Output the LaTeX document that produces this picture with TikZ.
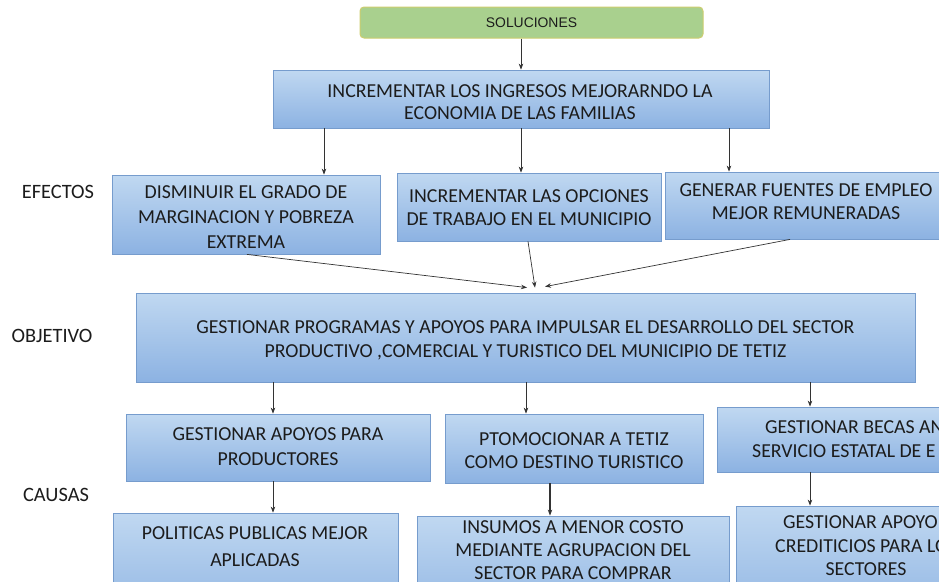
\documentclass[tikz,border=0pt]{standalone}
\usepackage{fontspec}
\setmainfont{Carlito}
\newfontfamily\arialf{Liberation Sans}
\usetikzlibrary{arrows.meta}
\definecolor{boxtop}{RGB}{192,216,241}
\definecolor{boxbot}{RGB}{140,178,226}
\definecolor{boxline}{RGB}{118,156,205}
\definecolor{txt}{RGB}{28,28,28}
\definecolor{gfill}{RGB}{169,208,142}
\definecolor{gline}{RGB}{205,205,110}
\tikzset{
  bx/.style={draw=boxline, line width=0.8pt, top color=boxtop, bottom color=boxbot,
    text=txt, font=\fontsize{19.8}{24}\selectfont, align=center, inner sep=0pt},
  sbx/.style={draw=gline, line width=1pt, fill=gfill, rounded corners=4pt, text=txt,
    font=\arialf\fontsize{13.9}{15}\selectfont, inner sep=0pt},
  tx/.style={text=txt, font=\fontsize{19.8}{23}\selectfont, align=center, inner sep=0pt},
  lbl/.style={text=txt, font=\fontsize{20.4}{22}\selectfont, inner sep=0pt},
  arr/.style={-{Stealth[length=6pt,width=4.5pt]}, draw=black!80, line width=0.7pt}
}
\begin{document}
\begin{tikzpicture}[x=1pt,y=-1pt]
\useasboundingbox (0,0) rectangle (939,581);
\fill[white] (0,0) rectangle (939,581);
\begin{scope}
\clip (0,0) rectangle (939,581);
% labels
\node[lbl] (lef) at (58,192) {EFECTOS};
\node[lbl] (lob) at (52,336) {OBJETIVO};
\node[lbl] (lca) at (56,495) {CAUSAS};
% top
\node[sbx, minimum width=343, minimum height=31] (sol) at (531.5,22.5) {SOLUCIONES};
\node[bx, minimum width=496, minimum height=58] (ing) at (521,99) {};
\node[tx, font=\fontsize{19.8}{22}\selectfont] (ingt) at (520,102) {INCREMENTAR LOS INGRESOS MEJORARNDO LA\\ECONOMIA DE LAS FAMILIAS};
% efectos
\node[bx, minimum width=268, minimum height=79] (dis) at (246,214.5) {};
\node[tx, font=\fontsize{19.8}{25}\selectfont] (dist) at (246,217) {DISMINUIR EL GRADO DE\\MARGINACION Y POBREZA\\EXTREMA};
\node[bx, minimum width=264, minimum height=68] (opc) at (529,207) {};
\node[tx, font=\fontsize{19.8}{23}\selectfont] (opct) at (529,207.5) {INCREMENTAR LAS OPCIONES\\DE TRABAJO EN EL MUNICIPIO};
\node[bx, minimum width=282, minimum height=67] (gen) at (806,205.5) {};
\node[tx, font=\fontsize{19.8}{23.5}\selectfont] (gent) at (806,201.5) {GENERAR FUENTES DE EMPLEO\\MEJOR REMUNERADAS};
% objetivo
\node[bx, minimum width=779, minimum height=89] (obj) at (525.5,337.5) {};
\node[tx, font=\fontsize{19.8}{24}\selectfont] (objt) at (525.5,340) {GESTIONAR PROGRAMAS Y APOYOS PARA IMPULSAR EL DESARROLLO DEL SECTOR\\PRODUCTIVO ,COMERCIAL Y TURISTICO DEL MUNICIPIO DE TETIZ};
% causas
\node[bx, minimum width=304, minimum height=67] (gap) at (278,447.5) {};
\node[tx, font=\fontsize{19.8}{25}\selectfont] (gapt) at (278,446.5) {GESTIONAR APOYOS PARA\\PRODUCTORES};
\node[bx, minimum width=258, minimum height=69] (pto) at (574,448.5) {};
\node[tx, font=\fontsize{19.8}{22.5}\selectfont] (ptot) at (574,450.5) {PTOMOCIONAR A TETIZ\\COMO DESTINO TURISTICO};
\node[bx, minimum width=283, minimum height=65] (bec) at (858.5,439.5) {};
\node[tx, anchor=west] (bec1) at (765,427.5) {GESTIONAR BECAS AN};
\node[tx, anchor=west] (bec2) at (752,451.5) {SERVICIO ESTATAL DE E};
\node[bx, minimum width=285, minimum height=117] (pol) at (255.5,571.5) {};
\node[tx, font=\fontsize{19.8}{27}\selectfont] (polt) at (255,547) {POLITICAS PUBLICAS MEJOR\\APLICADAS};
\node[bx, minimum width=312, minimum height=114] (ins) at (573,573) {};
\node[tx] (inst) at (573,550) {INSUMOS A MENOR COSTO\\MEDIANTE AGRUPACION DEL\\SECTOR PARA COMPRAR};
\node[bx, minimum width=264, minimum height=124] (apo) at (868,568) {};
\node[tx, anchor=west] (apo1) at (783,522.5) {GESTIONAR APOYO};
\node[tx, anchor=west] (apo2) at (775,546.5) {CREDITICIOS PARA LO};
\node[tx] (apo3) at (866,569.5) {SECTORES};
\end{scope}
% connectors
\draw[arr] (sol.south -| ing.north) -- (ing.north);
\draw[arr] (324,0 |- ing.south) -- (324,0 |- dis.north);
\draw[arr] (521,0 |- ing.south) -- (521,0 |- opc.north);
\draw[arr] (729,0 |- ing.south) -- (729,0 |- gen.north);
\draw[arr] (247,0 |- dis.south) -- ([xshift=1.5pt,yshift=5pt]obj.north);
\draw[arr] (528,0 |- opc.south) -- ([xshift=9.5pt,yshift=5pt]obj.north);
\draw[arr] (790,0 |- gen.south) -- ([xshift=19.5pt,yshift=6pt]obj.north);
\draw[arr] (273,0 |- obj.south) -- (273,0 |- gap.north);
\draw[arr] (526,0 |- obj.south) -- (526,0 |- pto.north);
\draw[arr] (810,0 |- obj.south) -- (810,0 |- bec.north);
\draw[arr] (273,0 |- gap.south) -- (273,0 |- pol.north);
\draw[arr, line width=1.3pt] (550,0 |- pto.south) -- (550,0 |- ins.north);
\draw[arr] (810,0 |- bec.south) -- (810,0 |- apo.north);
\end{tikzpicture}
\end{document}
